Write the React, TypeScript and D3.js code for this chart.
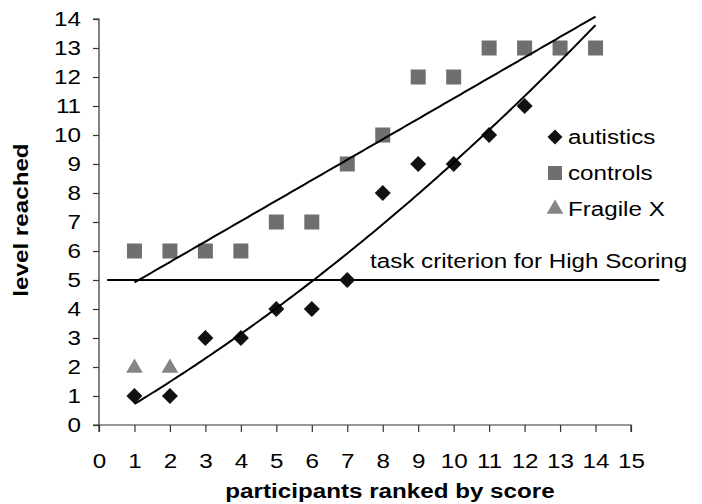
import React, { useRef, useEffect } from 'react'
import * as d3 from 'd3'

// participant ranks and levels reached
const autisticRanks = [1, 2, 3, 4, 5, 6, 7, 8, 9, 10, 11, 12]
const autisticLevels = [1, 1, 3, 3, 4, 4, 5, 8, 9, 9, 10, 11]
const controlRanks = [1, 2, 3, 4, 5, 6, 7, 8, 9, 10, 11, 12, 13, 14]
const controlLevels = [6, 6, 6, 6, 7, 7, 9, 10, 12, 12, 13, 13, 13, 13]
const fragileRanks = [1, 2]
const fragileLevels = [2, 2]

const xTicks = d3.range(0, 16)
const yTicks = d3.range(0, 15)
const criterionLevel = 5
const criterionSpan = [0.23, 15.8]
const trendEnd = 14

const legendItems = ['autistics', 'controls', 'Fragile X']

// least squares polynomial fit (degree 1 or 2)
function polyFit(xs: number[], ys: number[], deg: number): number[] {
  const n = deg + 1
  const A: number[][] = []
  for (let i = 0; i < n; i++) {
    const row: number[] = []
    for (let j = 0; j < n; j++) row.push(d3.sum(xs, x => Math.pow(x, i + j)))
    row.push(d3.sum(xs.map((x, k) => Math.pow(x, i) * ys[k])))
    A.push(row)
  }
  // gaussian elimination
  for (let i = 0; i < n; i++) {
    for (let k = i + 1; k < n; k++) {
      const f = A[k][i] / A[i][i]
      for (let j = i; j <= n; j++) A[k][j] -= f * A[i][j]
    }
  }
  const c = new Array(n).fill(0)
  for (let i = n - 1; i >= 0; i--) {
    let s = A[i][n]
    for (let j = i + 1; j < n; j++) s -= A[i][j] * c[j]
    c[i] = s / A[i][i]
  }
  return c
}

const App: React.FC = () => {
  const svgRef = useRef<SVGSVGElement | null>(null)
  const width = 702
  const height = 504

  useEffect(() => {
    document.body.style.margin = '0'
    if (!svgRef.current) return
    const svg = d3.select(svgRef.current)
    svg.selectAll('*').remove()

    const font = 'Arial, "Liberation Sans", sans-serif'
    // the original's type is a bit wider than Arial
    const sx = 1.21

    const x = d3.scaleLinear().domain([0, 15]).range([99, 631])
    const y = d3.scaleLinear().domain([0, 14]).range([425, 19])

    const label = (px: number, py: number, txt: string, opts: { anchor?: string, bold?: boolean, rotate?: boolean } = {}) =>
      svg.append('text')
        .attr('transform', `translate(${px},${py})${opts.rotate ? ' rotate(-90)' : ''} scale(${sx},1)`)
        .attr('text-anchor', opts.anchor ?? 'start')
        .style('font-family', font)
        .style('font-size', '20px')
        .style('font-weight', opts.bold ? 'bold' : 'normal')
        .text(txt)

    // axes
    const yAxis = svg.append('g')
      .attr('transform', `translate(${x(0)},0)`)
      .call(d3.axisLeft(y).tickValues(yTicks).tickSize(6))
    const xAxis = svg.append('g')
      .attr('transform', `translate(0,${y(0)})`)
      .call(d3.axisBottom(x).tickValues(xTicks).tickSize(7))
    ;[xAxis, yAxis].forEach(g => {
      g.select('.domain').attr('stroke', '#333').attr('stroke-width', 1.2)
      g.selectAll('.tick line').attr('stroke', '#333').attr('stroke-width', 1.2)
      g.selectAll('.tick text')
        .attr('fill', '#000')
        .attr('transform', `scale(${sx},1)`)
        .style('font-family', font)
        .style('font-size', '20px')
    })
    yAxis.selectAll('.tick text').attr('x', -18 / sx)
    xAxis.selectAll('.tick text').attr('y', 43).attr('dy', 0)
    xAxis.select('.domain').attr('d', `M${x(0)},7V0H${x(15)}V7`)
    yAxis.select('.domain').attr('d', `M-6,${y(14)}H0V${y(0)}H-6`)

    // criterion line
    svg.append('line')
      .attr('x1', x(criterionSpan[0]))
      .attr('x2', x(criterionSpan[1]))
      .attr('y1', y(criterionLevel))
      .attr('y2', y(criterionLevel))
      .attr('stroke', '#000')
      .attr('stroke-width', 2)
    label(370, y(criterionLevel) - 12, 'task criterion for High Scoring')

    // markers
    const diamond = (s: number) => `M0,${-s}L${s},0L0,${s}L${-s},0Z`
    const square = (s: number) => `M${-s},${-s}H${s}V${s}H${-s}Z`
    const tri = d3.symbol().type(d3.symbolTriangle).size(120)

    svg.append('g').selectAll('path')
      .data(controlRanks)
      .join('path')
      .attr('transform', (d, i) => `translate(${x(d)},${y(controlLevels[i])})`)
      .attr('d', square(7.5))
      .attr('fill', '#6f6f6f')

    svg.append('g').selectAll('path')
      .data(fragileRanks)
      .join('path')
      .attr('transform', (d, i) => `translate(${x(d)},${y(fragileLevels[i]) + 1})`)
      .attr('d', tri()!)
      .attr('fill', '#858585')

    svg.append('g').selectAll('path')
      .data(autisticRanks)
      .join('path')
      .attr('transform', (d, i) => `translate(${x(d)},${y(autisticLevels[i])})`)
      .attr('d', diamond(8))
      .attr('fill', '#111')

    // trendlines
    const cLin = polyFit(controlRanks, controlLevels, 1)
    const cQuad = polyFit(autisticRanks, autisticLevels, 2)
    const xs = d3.range(1, trendEnd + 0.001, 0.1)
    const line = d3.line<number>().x(d => x(d))

    svg.append('path')
      .attr('fill', 'none')
      .attr('stroke', '#000')
      .attr('stroke-width', 2)
      .attr('d', line.y(d => y(cLin[0] + cLin[1] * d))(xs)!)

    svg.append('path')
      .attr('fill', 'none')
      .attr('stroke', '#000')
      .attr('stroke-width', 2)
      .attr('d', line.y(d => y(cQuad[0] + cQuad[1] * d + cQuad[2] * d * d))(xs)!)

    // legend
    legendItems.forEach((name, i) => {
      const cy = 137 + i * 36
      const mark = svg.append('path').attr('transform', `translate(555,${cy})`)
      if (i === 0) mark.attr('d', diamond(7.5)).attr('fill', '#111')
      if (i === 1) mark.attr('d', square(7)).attr('fill', '#6f6f6f')
      if (i === 2) mark.attr('d', tri()!).attr('fill', '#858585')
      label(568, cy + 7, name)
    })

    // axis titles
    label(390, 498, 'participants ranked by score', { anchor: 'middle', bold: true })
    label(28, 220, 'level reached', { anchor: 'middle', bold: true, rotate: true })
  }, [])

  return <svg ref={svgRef} width={width} height={height} style={{ display: 'block' }} />
}

export default App
